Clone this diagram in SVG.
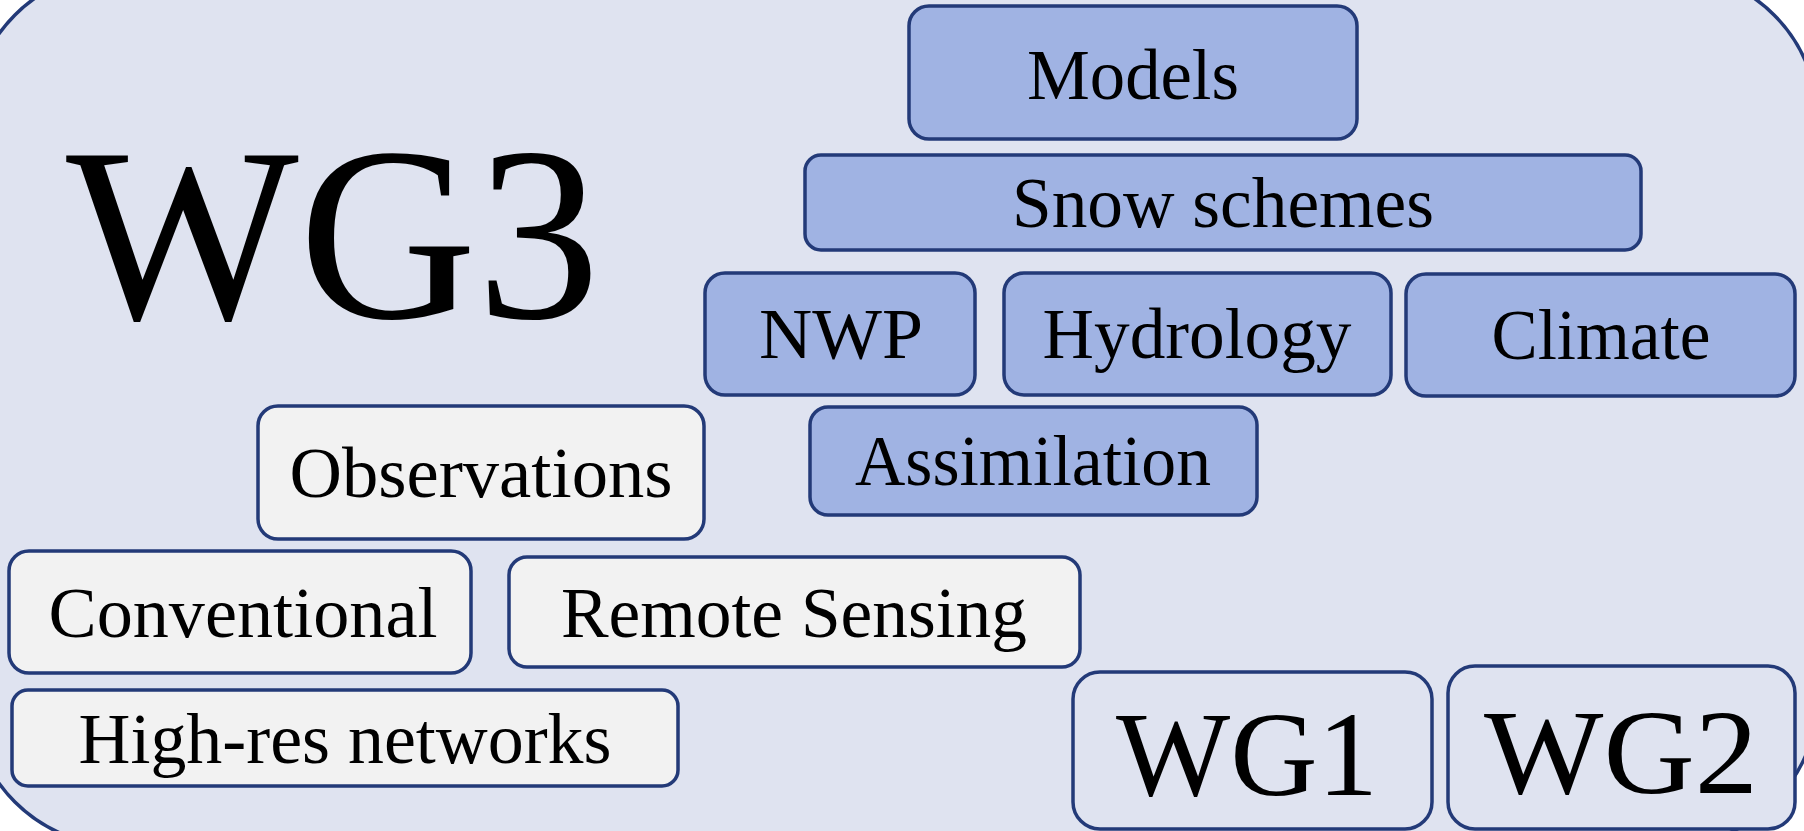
<svg xmlns="http://www.w3.org/2000/svg" width="1804" height="831" viewBox="0 0 1804 831">
<style>
.frame{fill:#DFE3F0;stroke:#233A78;stroke-width:3.5}
.blue{fill:#A0B3E3;stroke:#233A78;stroke-width:3.5}
.grey{fill:#F2F2F2;stroke:#233A78;stroke-width:3.5}
.wg{fill:#DFE3F0;stroke:#233A78;stroke-width:3.5}
text{font-family:"Liberation Serif","Times New Roman",serif;fill:#000;text-anchor:middle}
.t{font-size:71px}
.big{font-size:120px}
.huge{font-size:248px}
</style>
<rect id="frame" class="frame" x="-29" y="-29" width="1847" height="875" rx="150" ry="150"/>
<g id="wg3"><text class="huge" x="333" y="318" textLength="534" lengthAdjust="spacingAndGlyphs">WG3</text></g>
<g id="models"><rect class="blue" x="909" y="6" width="448" height="133" rx="20"/><text class="t" x="1133" y="99" textLength="212" lengthAdjust="spacingAndGlyphs">Models</text></g>
<g id="snow"><rect class="blue" x="805" y="155" width="836" height="95" rx="16"/><text class="t" x="1223" y="227" textLength="422" lengthAdjust="spacingAndGlyphs">Snow schemes</text></g>
<g id="nwp"><rect class="blue" x="705" y="273" width="270" height="122" rx="20"/><text class="t" x="841" y="358" textLength="164" lengthAdjust="spacingAndGlyphs">NWP</text></g>
<g id="hydrology"><rect class="blue" x="1004" y="273" width="387" height="122" rx="20"/><text class="t" x="1197" y="358" textLength="309" lengthAdjust="spacingAndGlyphs">Hydrology</text></g>
<g id="climate"><rect class="blue" x="1406" y="274" width="389" height="122" rx="20"/><text class="t" x="1601" y="359" textLength="219" lengthAdjust="spacingAndGlyphs">Climate</text></g>
<g id="assimilation"><rect class="blue" x="810" y="407" width="447" height="108" rx="18"/><text class="t" x="1033" y="485" textLength="356" lengthAdjust="spacingAndGlyphs">Assimilation</text></g>
<g id="observations"><rect class="grey" x="258" y="406" width="446" height="133" rx="20"/><text class="t" x="481" y="497" textLength="383" lengthAdjust="spacingAndGlyphs">Observations</text></g>
<g id="conventional"><rect class="grey" x="9" y="551" width="462" height="122" rx="20"/><text class="t" x="243" y="637" textLength="389" lengthAdjust="spacingAndGlyphs">Conventional</text></g>
<g id="remote"><rect class="grey" x="509" y="557" width="571" height="110" rx="18"/><text class="t" x="794" y="637" textLength="466" lengthAdjust="spacingAndGlyphs">Remote Sensing</text></g>
<g id="highres"><rect class="grey" x="12" y="690" width="666" height="96" rx="16"/><text class="t" x="345" y="763" textLength="533" lengthAdjust="spacingAndGlyphs">High-res networks</text></g>
<g id="wg1"><rect class="wg" x="1073" y="672" width="359" height="157" rx="27"/><text class="big" x="1247" y="795" textLength="262" lengthAdjust="spacingAndGlyphs">WG1</text></g>
<g id="wg2"><rect class="wg" x="1448" y="666" width="347" height="163" rx="27"/><text class="big" x="1621" y="793" textLength="274" lengthAdjust="spacingAndGlyphs">WG2</text></g>
<g id="connectors"></g>
</svg>
